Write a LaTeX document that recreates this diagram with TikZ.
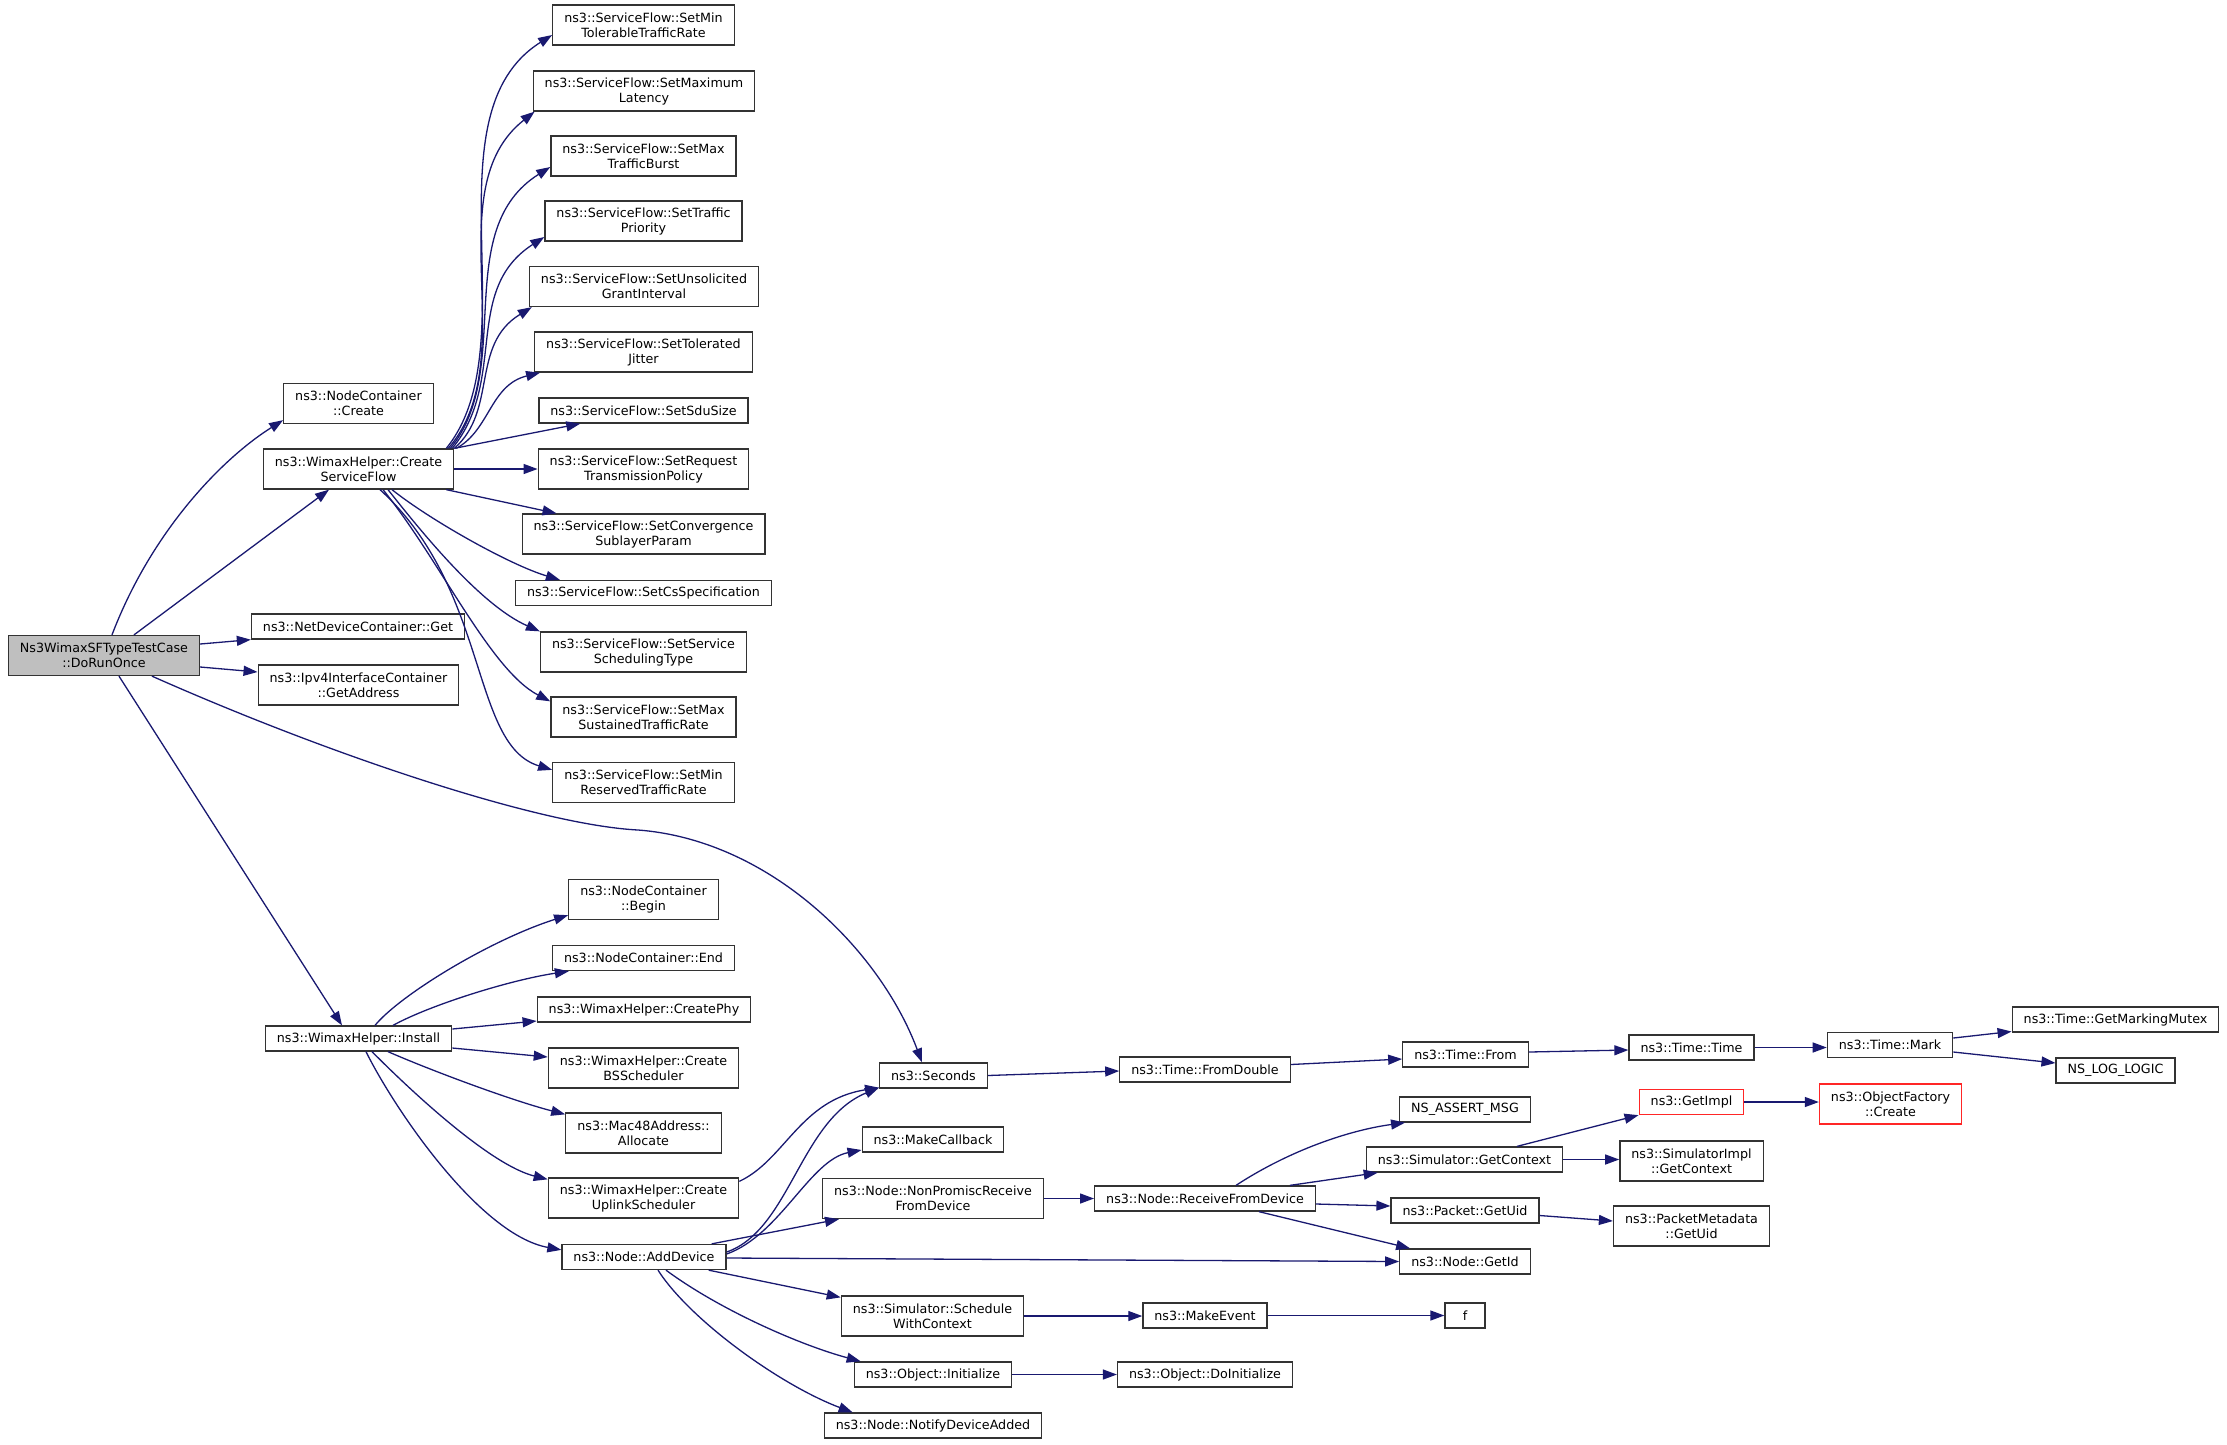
\documentclass[tikz,border=0pt]{standalone}
\usepackage{fontspec}
\setmainfont{DejaVu Sans}
\usetikzlibrary{arrows.meta}
\definecolor{azulnoche}{HTML}{191970}
\definecolor{gris}{HTML}{BFBFBF}

\begin{document}
\begin{tikzpicture}[x=1pt,y=-1pt,
    caja/.style={draw=black!80, line width=1.3pt, fill=white, align=center,
        font=\fontsize{12.7}{15}\selectfont, inner xsep=11.5pt, inner ysep=0pt,
        minimum height=25pt},
    doble/.style={minimum height=40pt},
    roja/.style={draw=red!85},
    llamada/.style={draw=azulnoche, line width=1.3pt, -{Triangle[length=14pt,width=10pt]}}]
    \useasboundingbox (0,0) rectangle (2227,1444);

    % Nodos
    \node[caja, doble, fill=gris] (run) at (104,655.5) {Ns3WimaxSFTypeTestCase\\::DoRunOnce};
    \node[caja, doble] (ncc) at (358.5,403.5) {ns3::NodeContainer\\::Create};
    \node[caja, doble] (csf) at (358.5,469) {ns3::WimaxHelper::Create\\ServiceFlow};
    \node[caja] (ndg) at (358,626.5) {ns3::NetDeviceContainer::Get};
    \node[caja, doble] (ipa) at (358.5,685) {ns3::Ipv4InterfaceContainer\\::GetAddress};
    \node[caja] (inst) at (358.5,1038.5) {ns3::WimaxHelper::Install};

    \node[caja, doble] (sf1) at (643.5,25) {ns3::ServiceFlow::SetMin\\TolerableTrafficRate};
    \node[caja, doble] (sf2) at (644,91) {ns3::ServiceFlow::SetMaximum\\Latency};
    \node[caja, doble] (sf3) at (643.5,156) {ns3::ServiceFlow::SetMax\\TrafficBurst};
    \node[caja, doble] (sf4) at (643.5,221) {ns3::ServiceFlow::SetTraffic\\Priority};
    \node[caja, doble] (sf5) at (644,286.5) {ns3::ServiceFlow::SetUnsolicited\\GrantInterval};
    \node[caja, doble] (sf6) at (643.5,352) {ns3::ServiceFlow::SetTolerated\\Jitter};
    \node[caja] (sf7) at (643.5,410.5) {ns3::ServiceFlow::SetSduSize};
    \node[caja, doble] (sf8) at (643.5,469) {ns3::ServiceFlow::SetRequest\\TransmissionPolicy};
    \node[caja, doble] (sf9) at (643.5,534) {ns3::ServiceFlow::SetConvergence\\SublayerParam};
    \node[caja] (sf10) at (643.5,593) {ns3::ServiceFlow::SetCsSpecification};
    \node[caja, doble] (sf11) at (643.5,652) {ns3::ServiceFlow::SetService\\SchedulingType};
    \node[caja, doble] (sf12) at (643.5,717) {ns3::ServiceFlow::SetMax\\SustainedTrafficRate};
    \node[caja, doble] (sf13) at (643.5,782.5) {ns3::ServiceFlow::SetMin\\ReservedTrafficRate};

    \node[caja, doble] (ncb) at (643.5,899.5) {ns3::NodeContainer\\::Begin};
    \node[caja] (nce) at (643.5,958) {ns3::NodeContainer::End};
    \node[caja] (phy) at (644,1009.5) {ns3::WimaxHelper::CreatePhy};
    \node[caja, doble] (bss) at (643.5,1068) {ns3::WimaxHelper::Create\\BSScheduler};
    \node[caja, doble] (mac) at (643.5,1133) {ns3::Mac48Address::\\Allocate};
    \node[caja, doble] (ups) at (643.5,1198) {ns3::WimaxHelper::Create\\UplinkScheduler};
    \node[caja] (add) at (644,1257) {ns3::Node::AddDevice};

    \node[caja] (sec) at (933.5,1075.5) {ns3::Seconds};
    \node[caja] (mcb) at (933,1139.5) {ns3::MakeCallback};
    \node[caja, doble] (npr) at (933,1198.5) {ns3::Node::NonPromiscReceive\\FromDevice};
    \node[caja, doble] (swc) at (932.5,1316) {ns3::Simulator::Schedule\\WithContext};
    \node[caja] (oin) at (933,1374.5) {ns3::Object::Initialize};
    \node[caja] (nda) at (933,1425.5) {ns3::Node::NotifyDeviceAdded};

    \node[caja] (fdb) at (1205,1069.5) {ns3::Time::FromDouble};
    \node[caja] (rfd) at (1205,1198.5) {ns3::Node::ReceiveFromDevice};
    \node[caja] (mev) at (1205,1315.5) {ns3::MakeEvent};
    \node[caja] (odi) at (1205,1374.5) {ns3::Object::DoInitialize};

    \node[caja] (tfr) at (1465.5,1054.5) {ns3::Time::From};
    \node[caja] (nam) at (1465,1109.5) {NS\_ASSERT\_MSG};
    \node[caja] (sgc) at (1464.5,1159.5) {ns3::Simulator::GetContext};
    \node[caja] (pgu) at (1465,1210.5) {ns3::Packet::GetUid};
    \node[caja] (ngi) at (1465,1261.5) {ns3::Node::GetId};
    \node[caja, minimum width=40pt] (ff) at (1465,1315.5) {f};

    \node[caja] (tti) at (1691.5,1047.5) {ns3::Time::Time};
    \node[caja, roja] (gim) at (1691.5,1102) {ns3::GetImpl};
    \node[caja, doble] (sic) at (1691.5,1161) {ns3::SimulatorImpl\\::GetContext};
    \node[caja, doble] (pmd) at (1691.5,1226) {ns3::PacketMetadata\\::GetUid};

    \node[caja] (tmk) at (1890,1045) {ns3::Time::Mark};
    \node[caja, doble, roja] (ofc) at (1890.5,1104) {ns3::ObjectFactory\\::Create};

    \node[caja] (gmm) at (2115.5,1019.5) {ns3::Time::GetMarkingMutex};
    \node[caja] (nll) at (2115.5,1070.5) {NS\_LOG\_LOGIC};

    % Llamadas desde DoRunOnce
    \draw[llamada] ([xshift=8pt]run.north) .. controls (152,530) and (223,458) .. ([yshift=4pt]ncc.south west);
    \draw[llamada] ([xshift=30pt]run.north) -- ([xshift=-29.5pt]csf.south);
    \draw[llamada] ([yshift=11.5pt]run.east) -- (ndg.south west);
    \draw[llamada] ([yshift=-11.5pt]run.east) -- ([yshift=13pt]ipa.west);
    \draw[llamada] ([xshift=48pt]run.south) .. controls (332,756) and (540,825) .. (638,830)
        .. controls (770,840) and (880,950) .. ([xshift=-11.5pt]sec.north);
    \draw[llamada] ([xshift=15pt]run.south) -- ([xshift=-16.5pt]inst.north);

    % CreateServiceFlow
    \draw[llamada] ([xshift=-8pt]csf.north east) .. controls (530,345) and (425,115) .. ([yshift=-10pt]sf1.west);
    \draw[llamada] ([xshift=-6pt]csf.north east) .. controls (525,360) and (435,190) .. ([xshift=2pt]sf2.south west);
    \draw[llamada] ([xshift=-4pt]csf.north east) .. controls (515,370) and (450,230) .. ([yshift=-11pt]sf3.west);
    \draw[llamada] ([xshift=-2pt]csf.north east) .. controls (508,380) and (462,290) .. ([yshift=-16pt]sf4.west);
    \draw[llamada] (csf.north east) .. controls (498,410) and (470,345) .. ([xshift=3pt]sf5.south west);
    \draw[llamada] ([xshift=2pt]csf.north east) .. controls (490,430) and (490,385) .. ([xshift=6pt]sf6.south west);
    \draw[llamada] (csf.north east) -- ([xshift=42pt]sf7.south west);
    \draw[llamada] (csf.east) -- (csf.east -| sf8.west);
    \draw[llamada] ([xshift=-8pt]csf.south east) -- ([xshift=35pt]sf9.north west);
    \draw[llamada] ([xshift=33.5pt]csf.south) .. controls (430,520) and (510,565) .. ([xshift=45pt]sf10.north west);
    \draw[llamada] ([xshift=29.5pt]csf.south) .. controls (420,530) and (480,605) .. (sf11.north west);
    \draw[llamada] ([xshift=24.5pt]csf.south) .. controls (440,560) and (490,670) .. ([yshift=-5pt]sf12.north west);
    \draw[llamada] ([xshift=21.5pt]csf.south) .. controls (490,590) and (470,745) .. ([yshift=-8pt]sf13.north west);

    % Install
    \draw[llamada] ([xshift=16.5pt]inst.north) .. controls (400,995) and (490,940) .. ([yshift=5pt]ncb.south west);
    \draw[llamada] ([xshift=34.5pt]inst.north) .. controls (430,1005) and (510,980) .. ([xshift=17pt]nce.south west);
    \draw[llamada] ([yshift=9.5pt]inst.east) -- ([yshift=-11.5pt]phy.west);
    \draw[llamada] ([yshift=-9.5pt]inst.east) -- ([yshift=11pt]bss.west);
    \draw[llamada] ([xshift=29.5pt]inst.south) .. controls (430,1070) and (510,1100) .. ([yshift=-2pt]mac.north west);
    \draw[llamada] ([xshift=13.5pt]inst.south) .. controls (410,1090) and (490,1165) .. ([yshift=-2pt]ups.north west);
    \draw[llamada] ([xshift=7.5pt]inst.south) .. controls (395,1110) and (480,1235) .. ([yshift=-6pt]add.north west);

    \draw[llamada] ([yshift=-4pt]ups.north east) .. controls (785,1160) and (800,1100) .. ([yshift=1pt]sec.south west);

    % AddDevice
    \draw[llamada] ([yshift=5pt]add.east) .. controls (790,1230) and (800,1120) .. ([yshift=1pt]sec.south west);
    \draw[llamada] ([yshift=3pt]add.east) .. controls (780,1235) and (810,1160) .. ([yshift=-10.5pt]mcb.west);
    \draw[llamada] ([xshift=-15pt]add.north east) -- ([xshift=17pt]npr.south west);
    \draw[llamada] ([yshift=-1pt]add.east) -- (ngi.west);
    \draw[llamada] ([xshift=-18pt]add.south east) -- ([yshift=-2pt]swc.north west);
    \draw[llamada] ([xshift=22pt]add.south) .. controls (720,1310) and (800,1345) .. ([xshift=7pt]oin.north west);
    \draw[llamada] ([xshift=14pt]add.south) .. controls (690,1320) and (780,1385) .. ([xshift=29pt]nda.north west);

    \draw[llamada] (npr.east) -- (npr.east -| rfd.west);
    \draw[llamada] ([xshift=31pt]rfd.north) .. controls (1290,1150) and (1350,1130) .. ([xshift=6pt]nam.south west);
    \draw[llamada] ([xshift=85pt]rfd.north) -- ([xshift=12pt]sgc.south west);
    \draw[llamada] ([yshift=-5.5pt]rfd.east) -- ([yshift=4.5pt]pgu.west);
    \draw[llamada] ([xshift=54pt]rfd.south) -- ([xshift=11pt]ngi.north west);
    \draw[llamada] ([xshift=52.5pt]sgc.north) -- (gim.south west);
    \draw[llamada] (sgc.east) -- (sgc.east -| sic.west);
    \draw[llamada] (gim.east) -- (gim.east -| ofc.west);
    \draw[llamada] ([yshift=-5pt]pgu.east) -- ([yshift=5pt]pmd.west);

    % Cadena del tiempo
    \draw[llamada] (sec.east) -- ([yshift=-1.5pt]fdb.west);
    \draw[llamada] ([yshift=5pt]fdb.east) -- ([yshift=-4.5pt]tfr.west);
    \draw[llamada] ([yshift=2.5pt]tfr.east) -- ([yshift=-2.5pt]tti.west);
    \draw[llamada] (tti.east) -- (tti.east -| tmk.west);
    \draw[llamada] ([yshift=7pt]tmk.east) -- ([yshift=-12pt]gmm.west);
    \draw[llamada] ([yshift=-7pt]tmk.east) -- ([yshift=7.5pt]nll.west);

    \draw[llamada] (swc.east) -- (swc.east -| mev.west);
    \draw[llamada] (mev.east) -- (mev.east -| ff.west);
    \draw[llamada] (oin.east) -- (oin.east -| odi.west);
\end{tikzpicture}
\end{document}
